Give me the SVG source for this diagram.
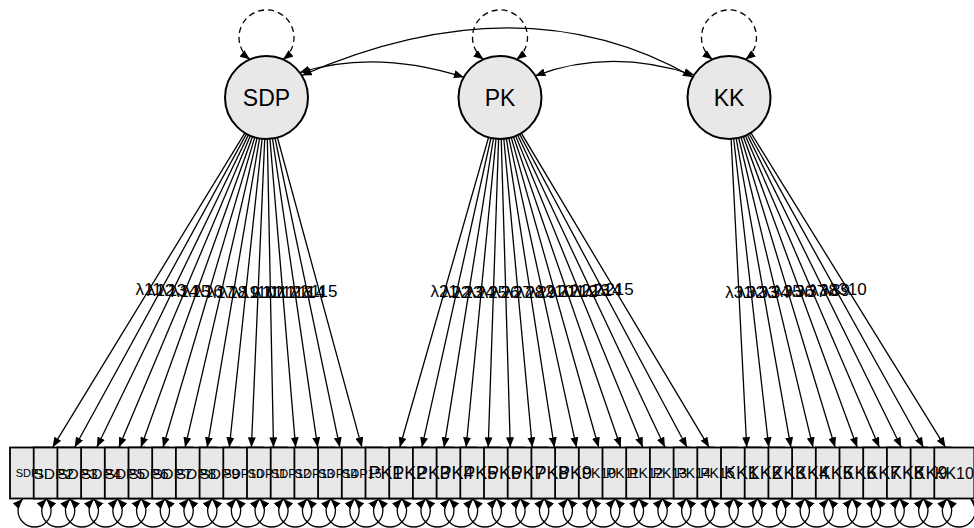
<svg xmlns="http://www.w3.org/2000/svg" width="974" height="528" viewBox="0 0 974 528">
<style>
.box{fill:#e8e8e8;stroke:#000;stroke-width:1.8}
.lat{fill:#e8e8e8;stroke:#000;stroke-width:2}
.ln{stroke:#000;stroke-width:1.3;fill:none}
.dash{stroke:#000;stroke-width:1.3;fill:none;stroke-dasharray:6 4}
text{font-family:"Liberation Sans",Arial,sans-serif;fill:#000;text-anchor:middle}
.latt{font-size:23px}
.lam{font-size:17px}
.s{font-size:11px}.m{font-size:15.5px}.t{font-size:12.5px}.l{font-size:18px}.p{font-size:14px}.k{font-size:16px}
</style>
<defs>
<marker id="ah" viewBox="0 0 10 8" refX="10" refY="4" markerWidth="10" markerHeight="8" markerUnits="userSpaceOnUse" orient="auto-start-reverse"><path d="M0,0 L10,4 L0,8 z" fill="#000"/></marker>
</defs>
<g id="manifest">
<g id="SDP1"><rect class="box" x="10" y="447.5" width="40" height="51"/></g>
<g id="SDP2"><rect class="box" x="33.7" y="447.5" width="40" height="51"/></g>
<g id="SDP3"><rect class="box" x="57.4" y="447.5" width="40" height="51"/></g>
<g id="SDP4"><rect class="box" x="81.1" y="447.5" width="40" height="51"/></g>
<g id="SDP5"><rect class="box" x="104.8" y="447.5" width="40" height="51"/></g>
<g id="SDP6"><rect class="box" x="128.5" y="447.5" width="40" height="51"/></g>
<g id="SDP7"><rect class="box" x="152.2" y="447.5" width="40" height="51"/></g>
<g id="SDP8"><rect class="box" x="175.9" y="447.5" width="40" height="51"/></g>
<g id="SDP9"><rect class="box" x="199.6" y="447.5" width="40" height="51"/></g>
<g id="SDP10"><rect class="box" x="223.3" y="447.5" width="40" height="51"/></g>
<g id="SDP11"><rect class="box" x="247" y="447.5" width="40" height="51"/></g>
<g id="SDP12"><rect class="box" x="270.7" y="447.5" width="40" height="51"/></g>
<g id="SDP13"><rect class="box" x="294.4" y="447.5" width="40" height="51"/></g>
<g id="SDP14"><rect class="box" x="318.1" y="447.5" width="40" height="51"/></g>
<g id="SDP15"><rect class="box" x="341.8" y="447.5" width="40" height="51"/></g>
<g id="PK1"><rect class="box" x="365.5" y="447.5" width="40" height="51"/></g>
<g id="PK2"><rect class="box" x="389.2" y="447.5" width="40" height="51"/></g>
<g id="PK3"><rect class="box" x="412.9" y="447.5" width="40" height="51"/></g>
<g id="PK4"><rect class="box" x="436.6" y="447.5" width="40" height="51"/></g>
<g id="PK5"><rect class="box" x="460.3" y="447.5" width="40" height="51"/></g>
<g id="PK6"><rect class="box" x="484" y="447.5" width="40" height="51"/></g>
<g id="PK7"><rect class="box" x="507.7" y="447.5" width="40" height="51"/></g>
<g id="PK8"><rect class="box" x="531.4" y="447.5" width="40" height="51"/></g>
<g id="PK9"><rect class="box" x="555.1" y="447.5" width="40" height="51"/></g>
<g id="PK10"><rect class="box" x="578.8" y="447.5" width="40" height="51"/></g>
<g id="PK11"><rect class="box" x="602.5" y="447.5" width="40" height="51"/></g>
<g id="PK12"><rect class="box" x="626.2" y="447.5" width="40" height="51"/></g>
<g id="PK13"><rect class="box" x="649.9" y="447.5" width="40" height="51"/></g>
<g id="PK14"><rect class="box" x="673.6" y="447.5" width="40" height="51"/></g>
<g id="PK15"><rect class="box" x="697.3" y="447.5" width="40" height="51"/></g>
<g id="KK1"><rect class="box" x="721" y="447.5" width="40" height="51"/></g>
<g id="KK2"><rect class="box" x="744.7" y="447.5" width="40" height="51"/></g>
<g id="KK3"><rect class="box" x="768.4" y="447.5" width="40" height="51"/></g>
<g id="KK4"><rect class="box" x="792.1" y="447.5" width="40" height="51"/></g>
<g id="KK5"><rect class="box" x="815.8" y="447.5" width="40" height="51"/></g>
<g id="KK6"><rect class="box" x="839.5" y="447.5" width="40" height="51"/></g>
<g id="KK7"><rect class="box" x="863.2" y="447.5" width="40" height="51"/></g>
<g id="KK8"><rect class="box" x="886.9" y="447.5" width="40" height="51"/></g>
<g id="KK9"><rect class="box" x="910.6" y="447.5" width="40" height="51"/></g>
<g id="KK10"><rect class="box" x="934.3" y="447.5" width="40" height="51"/></g>
</g>
<g id="manifest-labels">
<text class="s" x="30" y="477">SDP1</text>
<text class="m" x="53.7" y="478.5">SDP2</text>
<text class="m" x="77.4" y="478.5">SDP3</text>
<text class="m" x="101.1" y="478.5">SDP4</text>
<text class="m" x="124.8" y="478.5">SDP5</text>
<text class="m" x="148.5" y="478.5">SDP6</text>
<text class="m" x="172.2" y="478.5">SDP7</text>
<text class="m" x="195.9" y="478.5">SDP8</text>
<text class="m" x="219.6" y="478.5">SDP9</text>
<text class="t" x="243.3" y="477.5">SDP10</text>
<text class="t" x="267" y="477.5">SDP11</text>
<text class="t" x="290.7" y="477.5">SDP12</text>
<text class="t" x="314.4" y="477.5">SDP13</text>
<text class="t" x="338.1" y="477.5">SDP14</text>
<text class="t" x="361.8" y="477.5">SDP15</text>
<text class="l" x="385.5" y="479.4">PK1</text>
<text class="l" x="409.2" y="479.4">PK2</text>
<text class="l" x="432.9" y="479.4">PK3</text>
<text class="l" x="456.6" y="479.4">PK4</text>
<text class="l" x="480.3" y="479.4">PK5</text>
<text class="l" x="504" y="479.4">PK6</text>
<text class="l" x="527.7" y="479.4">PK7</text>
<text class="l" x="551.4" y="479.4">PK8</text>
<text class="l" x="575.1" y="479.4">PK9</text>
<text class="p" x="598.8" y="478">PK10</text>
<text class="p" x="622.5" y="478">PK11</text>
<text class="p" x="646.2" y="478">PK12</text>
<text class="p" x="669.9" y="478">PK13</text>
<text class="p" x="693.6" y="478">PK14</text>
<text class="p" x="717.3" y="478">PK15</text>
<text class="l" x="741" y="479.4">KK1</text>
<text class="l" x="764.7" y="479.4">KK2</text>
<text class="l" x="788.4" y="479.4">KK3</text>
<text class="l" x="812.1" y="479.4">KK4</text>
<text class="l" x="835.8" y="479.4">KK5</text>
<text class="l" x="859.5" y="479.4">KK6</text>
<text class="l" x="883.2" y="479.4">KK7</text>
<text class="l" x="906.9" y="479.4">KK8</text>
<text class="l" x="930.6" y="479.4">KK9</text>
<text class="k" x="954.3" y="478.7">KK10</text>
</g>
<g id="connectors">
<g id="loadings" marker-end="url(#ah)">
<line class="ln" x1="266.5" y1="97.5" x2="52.6" y2="447.3"/>
<line class="ln" x1="266.5" y1="97.5" x2="74.7" y2="447.3"/>
<line class="ln" x1="266.5" y1="97.5" x2="96.8" y2="447.3"/>
<line class="ln" x1="266.5" y1="97.5" x2="118.9" y2="447.3"/>
<line class="ln" x1="266.5" y1="97.5" x2="140.9" y2="447.3"/>
<line class="ln" x1="266.5" y1="97.5" x2="163" y2="447.3"/>
<line class="ln" x1="266.5" y1="97.5" x2="185.1" y2="447.3"/>
<line class="ln" x1="266.5" y1="97.5" x2="207.2" y2="447.3"/>
<line class="ln" x1="266.5" y1="97.5" x2="229.3" y2="447.3"/>
<line class="ln" x1="266.5" y1="97.5" x2="251.4" y2="447.3"/>
<line class="ln" x1="266.5" y1="97.5" x2="273.5" y2="447.3"/>
<line class="ln" x1="266.5" y1="97.5" x2="295.6" y2="447.3"/>
<line class="ln" x1="266.5" y1="97.5" x2="317.7" y2="447.3"/>
<line class="ln" x1="266.5" y1="97.5" x2="339.8" y2="447.3"/>
<line class="ln" x1="266.5" y1="97.5" x2="361.9" y2="447.3"/>
<line class="ln" x1="500" y1="97.5" x2="399.8" y2="447.3"/>
<line class="ln" x1="500" y1="97.5" x2="421.9" y2="447.3"/>
<line class="ln" x1="500" y1="97.5" x2="444" y2="447.3"/>
<line class="ln" x1="500" y1="97.5" x2="466.1" y2="447.3"/>
<line class="ln" x1="500" y1="97.5" x2="488.2" y2="447.3"/>
<line class="ln" x1="500" y1="97.5" x2="510.3" y2="447.3"/>
<line class="ln" x1="500" y1="97.5" x2="532.3" y2="447.3"/>
<line class="ln" x1="500" y1="97.5" x2="554.4" y2="447.3"/>
<line class="ln" x1="500" y1="97.5" x2="576.5" y2="447.3"/>
<line class="ln" x1="500" y1="97.5" x2="598.6" y2="447.3"/>
<line class="ln" x1="500" y1="97.5" x2="620.7" y2="447.3"/>
<line class="ln" x1="500" y1="97.5" x2="642.8" y2="447.3"/>
<line class="ln" x1="500" y1="97.5" x2="664.9" y2="447.3"/>
<line class="ln" x1="500" y1="97.5" x2="687" y2="447.3"/>
<line class="ln" x1="500" y1="97.5" x2="709.1" y2="447.3"/>
<line class="ln" x1="729" y1="97.5" x2="746.7" y2="447.3"/>
<line class="ln" x1="729" y1="97.5" x2="768.8" y2="447.3"/>
<line class="ln" x1="729" y1="97.5" x2="790.9" y2="447.3"/>
<line class="ln" x1="729" y1="97.5" x2="813" y2="447.3"/>
<line class="ln" x1="729" y1="97.5" x2="835.1" y2="447.3"/>
<line class="ln" x1="729" y1="97.5" x2="857.2" y2="447.3"/>
<line class="ln" x1="729" y1="97.5" x2="879.3" y2="447.3"/>
<line class="ln" x1="729" y1="97.5" x2="901.3" y2="447.3"/>
<line class="ln" x1="729" y1="97.5" x2="923.4" y2="447.3"/>
<line class="ln" x1="729" y1="97.5" x2="945.5" y2="447.3"/>
</g>
<g id="residuals" marker-start="url(#ah)" marker-end="url(#ah)">
<path class="ln" d="M22.7,499 A16.5,16.5 0 1 0 46.4,499"/>
<path class="ln" d="M46.4,499 A16.5,16.5 0 1 0 70.1,499"/>
<path class="ln" d="M70.1,499 A16.5,16.5 0 1 0 93.8,499"/>
<path class="ln" d="M93.8,499 A16.5,16.5 0 1 0 117.5,499"/>
<path class="ln" d="M117.5,499 A16.5,16.5 0 1 0 141.2,499"/>
<path class="ln" d="M141.2,499 A16.5,16.5 0 1 0 164.9,499"/>
<path class="ln" d="M164.9,499 A16.5,16.5 0 1 0 188.6,499"/>
<path class="ln" d="M188.6,499 A16.5,16.5 0 1 0 212.3,499"/>
<path class="ln" d="M212.3,499 A16.5,16.5 0 1 0 236,499"/>
<path class="ln" d="M236,499 A16.5,16.5 0 1 0 259.7,499"/>
<path class="ln" d="M259.7,499 A16.5,16.5 0 1 0 283.4,499"/>
<path class="ln" d="M283.4,499 A16.5,16.5 0 1 0 307.1,499"/>
<path class="ln" d="M307.1,499 A16.5,16.5 0 1 0 330.8,499"/>
<path class="ln" d="M330.8,499 A16.5,16.5 0 1 0 354.5,499"/>
<path class="ln" d="M354.5,499 A16.5,16.5 0 1 0 378.2,499"/>
<path class="ln" d="M378.2,499 A16.5,16.5 0 1 0 401.9,499"/>
<path class="ln" d="M401.9,499 A16.5,16.5 0 1 0 425.6,499"/>
<path class="ln" d="M425.6,499 A16.5,16.5 0 1 0 449.3,499"/>
<path class="ln" d="M449.3,499 A16.5,16.5 0 1 0 473,499"/>
<path class="ln" d="M473,499 A16.5,16.5 0 1 0 496.7,499"/>
<path class="ln" d="M496.7,499 A16.5,16.5 0 1 0 520.4,499"/>
<path class="ln" d="M520.4,499 A16.5,16.5 0 1 0 544.1,499"/>
<path class="ln" d="M544.1,499 A16.5,16.5 0 1 0 567.8,499"/>
<path class="ln" d="M567.8,499 A16.5,16.5 0 1 0 591.5,499"/>
<path class="ln" d="M591.5,499 A16.5,16.5 0 1 0 615.2,499"/>
<path class="ln" d="M615.2,499 A16.5,16.5 0 1 0 638.9,499"/>
<path class="ln" d="M638.9,499 A16.5,16.5 0 1 0 662.6,499"/>
<path class="ln" d="M662.6,499 A16.5,16.5 0 1 0 686.3,499"/>
<path class="ln" d="M686.3,499 A16.5,16.5 0 1 0 710,499"/>
<path class="ln" d="M710,499 A16.5,16.5 0 1 0 733.7,499"/>
<path class="ln" d="M733.7,499 A16.5,16.5 0 1 0 757.4,499"/>
<path class="ln" d="M757.4,499 A16.5,16.5 0 1 0 781.1,499"/>
<path class="ln" d="M781.1,499 A16.5,16.5 0 1 0 804.8,499"/>
<path class="ln" d="M804.8,499 A16.5,16.5 0 1 0 828.5,499"/>
<path class="ln" d="M828.5,499 A16.5,16.5 0 1 0 852.2,499"/>
<path class="ln" d="M852.2,499 A16.5,16.5 0 1 0 875.9,499"/>
<path class="ln" d="M875.9,499 A16.5,16.5 0 1 0 899.6,499"/>
<path class="ln" d="M899.6,499 A16.5,16.5 0 1 0 923.3,499"/>
<path class="ln" d="M923.3,499 A16.5,16.5 0 1 0 947,499"/>
<path class="ln" d="M947,499 A16.5,16.5 0 1 0 970.7,499"/>
</g>
<g id="variances" marker-start="url(#ah)" marker-end="url(#ah)">
<path class="dash" d="M250,59.4 A27.5,27.5 0 1 1 283,59.4"/>
<path class="dash" d="M483.5,59.4 A27.5,27.5 0 1 1 516.5,59.4"/>
<path class="dash" d="M712.5,59.4 A27.5,27.5 0 1 1 745.5,59.4"/>
</g>
<g id="covariances" marker-start="url(#ah)" marker-end="url(#ah)">
<path class="ln" d="M299.7,72.6 Q375,49 463.8,77.2"/>
<path class="ln" d="M535.4,75.8 Q610,47.4 694.1,75.1"/>
<path class="ln" d="M301.8,75.5 Q522,-20.4 692.9,77.2"/>
</g>
<g id="loading-labels">
<text class="lam" x="148.7" y="295.1">λ11</text>
<text class="lam" x="160.6" y="295.6">λ12</text>
<text class="lam" x="172.6" y="296.1">λ13</text>
<text class="lam" x="184.6" y="296.5">λ14</text>
<text class="lam" x="196.7" y="296.9">λ15</text>
<text class="lam" x="208.9" y="297.3">λ16</text>
<text class="lam" x="221.1" y="297.6">λ17</text>
<text class="lam" x="233.4" y="297.9">λ18</text>
<text class="lam" x="245.7" y="298.1">λ19</text>
<text class="lam" x="258.1" y="298.2">λ110</text>
<text class="lam" x="270.4" y="298.2">λ111</text>
<text class="lam" x="282.8" y="298.1">λ112</text>
<text class="lam" x="295.1" y="297.9">λ113</text>
<text class="lam" x="307.4" y="297.7">λ114</text>
<text class="lam" x="319.7" y="297.4">λ115</text>
<text class="lam" x="444.2" y="297.3">λ21</text>
<text class="lam" x="456.4" y="297.7">λ22</text>
<text class="lam" x="468.7" y="297.9">λ23</text>
<text class="lam" x="481" y="298.1">λ24</text>
<text class="lam" x="493.4" y="298.2">λ25</text>
<text class="lam" x="505.7" y="298.2">λ26</text>
<text class="lam" x="518.1" y="298.1">λ27</text>
<text class="lam" x="530.4" y="297.9">λ28</text>
<text class="lam" x="542.7" y="297.7">λ29</text>
<text class="lam" x="555" y="297.4">λ210</text>
<text class="lam" x="567.1" y="297">λ211</text>
<text class="lam" x="579.3" y="296.6">λ212</text>
<text class="lam" x="591.3" y="296.2">λ213</text>
<text class="lam" x="603.3" y="295.7">λ214</text>
<text class="lam" x="615.2" y="295.2">λ215</text>
<text class="lam" x="738.9" y="298.2">λ31</text>
<text class="lam" x="751.3" y="298">λ32</text>
<text class="lam" x="763.6" y="297.8">λ33</text>
<text class="lam" x="775.9" y="297.6">λ34</text>
<text class="lam" x="788.1" y="297.3">λ35</text>
<text class="lam" x="800.3" y="296.9">λ36</text>
<text class="lam" x="812.4" y="296.5">λ37</text>
<text class="lam" x="824.3" y="296">λ38</text>
<text class="lam" x="836.3" y="295.5">λ39</text>
<text class="lam" x="848.2" y="295">λ310</text>
</g>
</g>
<g id="SDP"><circle class="lat" cx="266.5" cy="97.5" r="41.5"/><text class="latt" x="266.5" y="105.7">SDP</text></g>
<g id="PK"><circle class="lat" cx="500" cy="97.5" r="41.5"/><text class="latt" x="500" y="105.7">PK</text></g>
<g id="KK"><circle class="lat" cx="729" cy="97.5" r="41.5"/><text class="latt" x="729" y="105.7">KK</text></g>
</svg>
